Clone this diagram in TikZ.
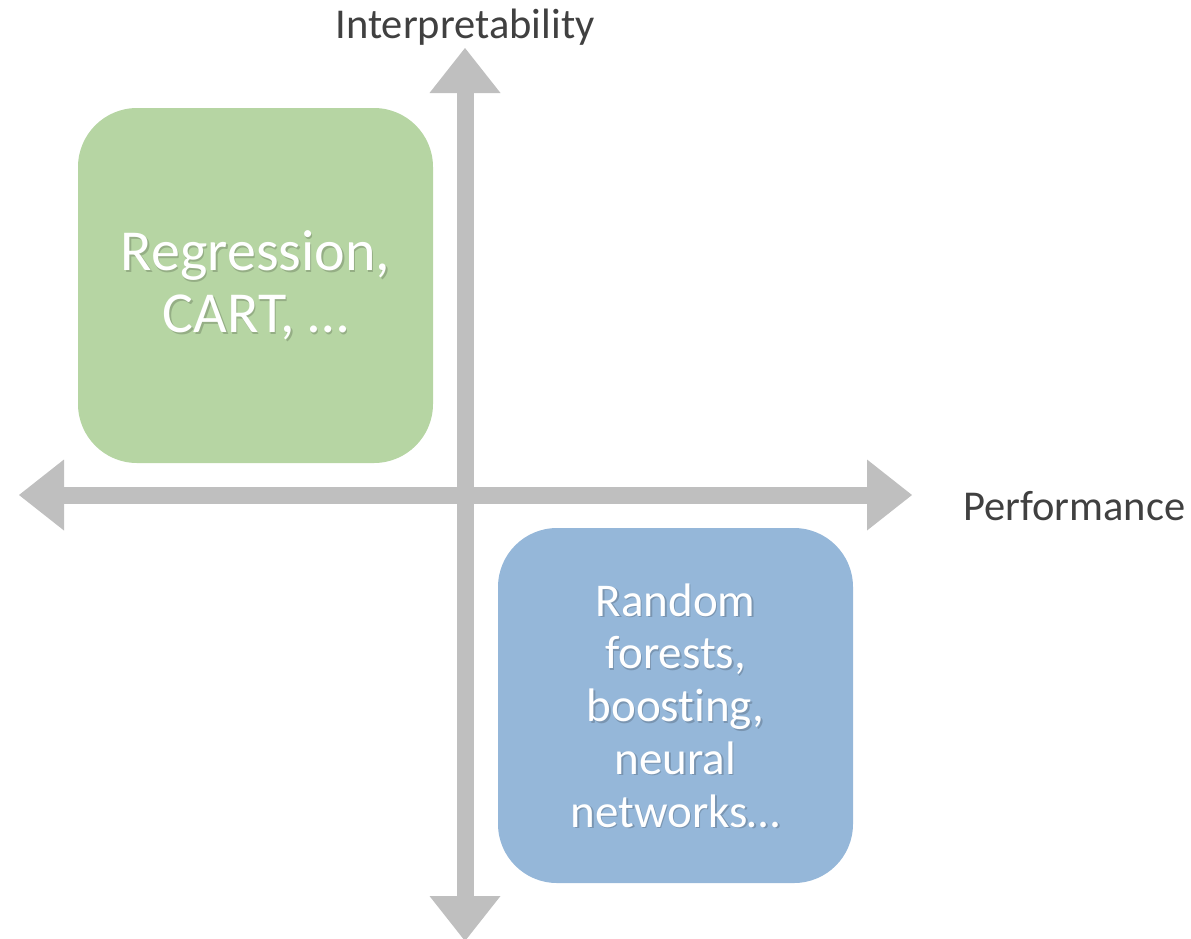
\documentclass[tikz,border=0pt]{standalone}
\usepackage{fontspec}
\setmainfont{Carlito}[Ligatures=NoCommon]
\usetikzlibrary{arrows.meta}
\definecolor{axisgray}{HTML}{BFBFBF}
\definecolor{labelgray}{HTML}{404040}
\definecolor{greenfill}{HTML}{B6D5A3}
\definecolor{bluefill}{HTML}{95B7D9}
\tikzset{
  axis/.style={draw=axisgray, line width=17pt,
    {Triangle[width=71pt,length=45pt,line width=0pt]}-{Triangle[width=71pt,length=45pt,line width=0pt]}},
  quadbox/.style={rounded corners=59pt, minimum width=355pt, minimum height=355pt, inner sep=0pt},
  axislabel/.style={text=labelgray, font=\fontsize{42.5}{50}\selectfont, inner sep=0pt},
  boxtext/.style={text=white, align=center, inner sep=0pt},
  boxshadow/.style={text=black, opacity=0.18, align=center, inner sep=0pt}
}
\begin{document}
\begin{tikzpicture}[x=1pt,y=-1pt]
\useasboundingbox (0,0) rectangle (1191,938);

% axes
\coordinate (left) at (19,495);
\coordinate (right) at (912,495);
\coordinate (top) at (465,48);
\coordinate (bottom) at (465,941);
\draw[axis] (bottom) -- (top);
\draw[axis] (left) -- (right);

% quadrant boxes
\node[quadbox, fill=greenfill] (green) at (255.5,285.5) {};
\node[quadbox, fill=bluefill] (blue) at (675.5,705.5) {};

% box texts with soft drop shadow
\node[boxshadow, font=\fontsize{58}{61.6}\selectfont] at ([shift={(1.5,1.5)}]green.center) {Regression,\\CART, …};
\node[boxtext, font=\fontsize{58}{61.6}\selectfont] (greentext) at (green.center) {Regression,\\CART, …};
\node[boxshadow, font=\fontsize{47}{52.8}\selectfont] at ([shift={(1.5,1.5)}]blue.center) {Random\\forests,\\boosting,\\neural\\networks…};
\node[boxtext, font=\fontsize{47}{52.8}\selectfont] (bluetext) at (blue.center) {Random\\forests,\\boosting,\\neural\\networks…};

% axis labels
\node[axislabel, anchor=base] (ylabel) at (465,38) {Interpretability};
\node[axislabel, anchor=base west] (xlabel) at (963,520) {Performance};
\end{tikzpicture}
\end{document}
